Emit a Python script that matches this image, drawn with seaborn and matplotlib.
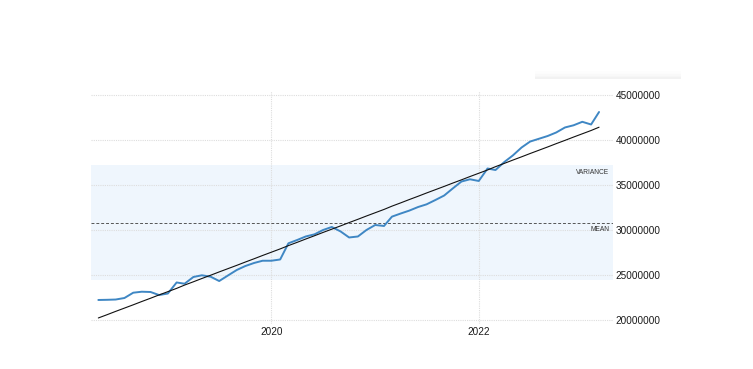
import numpy as np
import pandas as pd
import seaborn as sns
import matplotlib.pyplot as plt
import matplotlib.dates as mdates
from matplotlib.patches import Rectangle

# monthly values, millions
dates = pd.date_range("2018-05-01", periods=59, freq="MS")
values_m = [22.23, 22.25, 22.28, 22.45, 23.04, 23.15, 23.12, 22.78, 22.95, 24.18,
            24.04, 24.79, 24.98, 24.82, 24.34, 24.96, 25.57, 26.01, 26.35, 26.60,
            26.60, 26.74, 28.54, 28.91, 29.30, 29.54, 30.02, 30.36, 29.86, 29.19,
            29.30, 30.02, 30.58, 30.47, 31.51, 31.86, 32.18, 32.58, 32.88, 33.36,
            33.86, 34.64, 35.42, 35.67, 35.48, 36.87, 36.70, 37.59, 38.32, 39.21,
            39.87, 40.18, 40.49, 40.88, 41.44, 41.68, 42.07, 41.77, 43.16]
y_ticks = [20000000, 25000000, 30000000, 35000000, 40000000, 45000000]
x_ticks = ["2020-01-01", "2022-01-01"]

df = pd.DataFrame({"date": dates, "value": np.array(values_m) * 1e6})

mean = df["value"].mean()
std = df["value"].std()
t = np.arange(len(df))
coef = np.polyfit(t, df["value"], 1)
df["trend"] = np.polyval(coef, t)

sns.set_style("white")
plt.rcParams["font.family"] = ["Liberation Sans", "DejaVu Sans"]
fig = plt.figure(figsize=(7.53, 3.69), dpi=100)
ax = fig.add_axes([0.1208, 0.1206, 0.8140 - 0.1208, 0.6328])

ax.axhspan(mean - std, mean + std, color="#eff6fd", zorder=0, lw=0)
ax.axhline(mean, color="#555555", ls=(0, (3, 2)), lw=0.7, zorder=2)

sns.lineplot(data=df, x="date", y="value", ax=ax, color="#3f87c4", lw=1.4, zorder=4)
sns.lineplot(data=df, x="date", y="trend", ax=ax, color="#111111", lw=0.8, zorder=5)

ax.set_ylim(19.5e6, 45.5e6)
ax.set_xlim(pd.Timestamp("2018-04-05"), pd.Timestamp("2023-04-19"))
ax.set_yticks(y_ticks)
ax.set_yticklabels([str(v) for v in y_ticks])
ax.set_xticks(pd.to_datetime(x_ticks))
ax.xaxis.set_major_formatter(mdates.DateFormatter("%Y"))
ax.yaxis.tick_right()
ax.tick_params(axis="both", length=0, labelsize=7.2, colors="#1a1a1a", pad=2)
ax.grid(True, color="#dddddd", ls=(0, (1, 1)), lw=0.8)
ax.set_axisbelow(True)
for s in ax.spines.values():
    s.set_visible(False)
ax.set_xlabel("")
ax.set_ylabel("")

ax.text(0.993, mean + std - 0.75e6, "VARIANCE", transform=ax.get_yaxis_transform(),
        ha="right", va="center", fontsize=4.8, color="#333333")
ax.text(0.993, mean - 0.8e6, "MEAN", transform=ax.get_yaxis_transform(),
        ha="right", va="center", fontsize=4.8, color="#333333")

# faint shadow of a box at top right
for i, a in enumerate([0.05, 0.035, 0.022, 0.012, 0.006]):
    fig.add_artist(Rectangle((0.71, 0.787 + i * 0.004), 0.195, 0.004,
                             transform=fig.transFigure, color="#000000", alpha=a, lw=0))

fig.savefig("out.png", dpi=100)
